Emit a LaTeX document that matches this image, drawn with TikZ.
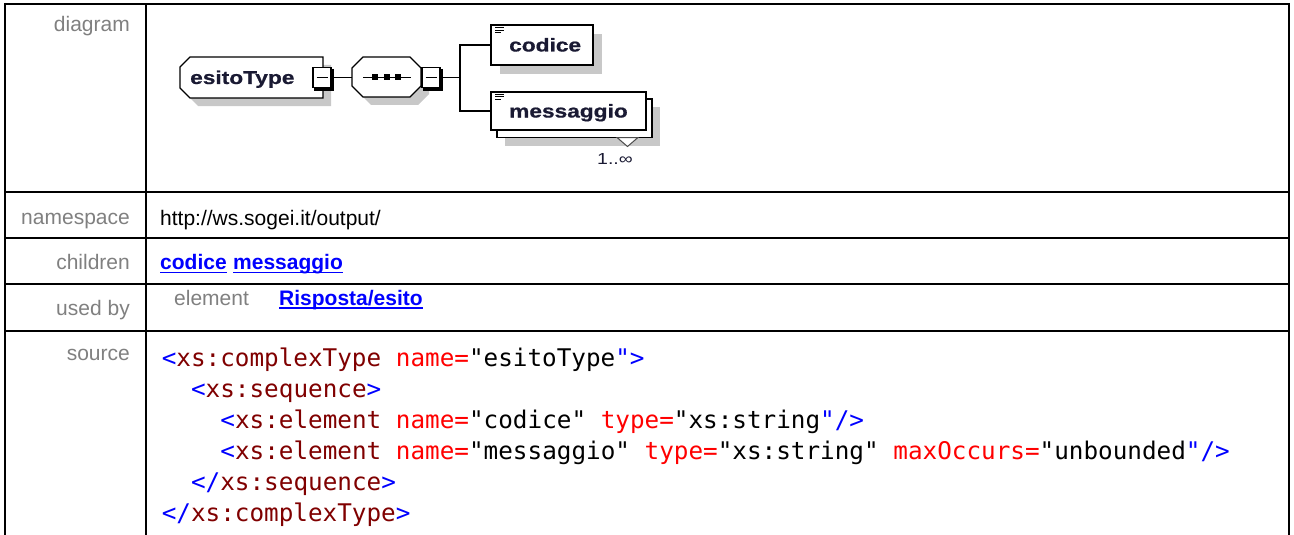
\documentclass[tikz,border=0pt]{standalone}
\usepackage{fontspec}
\setmainfont{Liberation Sans}
\newfontfamily\codefont{DejaVu Sans Mono}
\newfontfamily\elfont{Liberation Sans Bold}[FakeBold=0.6]
\usetikzlibrary{calc}
\definecolor{lbl}{HTML}{808080}
\definecolor{lnk}{HTML}{0000FF}
\definecolor{shd}{HTML}{C8C8C8}
\definecolor{cblue}{HTML}{0000FF}
\definecolor{ctag}{HTML}{800000}
\definecolor{cattr}{HTML}{FF0000}
\definecolor{dtext}{HTML}{1A1A33}
\newcommand\codeB[1]{\textcolor{cblue}{#1}}
\newcommand\codeT[1]{\textcolor{ctag}{#1}}
\newcommand\codeA[1]{\textcolor{cattr}{#1}}
\newcommand\wideT[1]{\scalebox{1.22}[1]{#1}}
\begin{document}
\begin{tikzpicture}[x=1pt,y=-1pt,
  grid/.style={line width=2pt, draw=black},
  lbltext/.style={anchor=base east, inner sep=0, text=lbl, font=\fontsize{21}{25}\selectfont},
  valtext/.style={anchor=base west, inner sep=0, font=\fontsize{21}{25}\selectfont},
  linktext/.style={anchor=base west, inner sep=0, text=lnk, font=\bfseries\fontsize{21}{25}\selectfont},
  ul/.style={draw=lnk, line width=1.6pt},
  codeline/.style={anchor=base west, inner sep=0, font=\codefont\fontsize{24.3}{29}\selectfont},
  eltext/.style={anchor=base west, inner sep=0, text=dtext, font=\elfont\fontsize{18.6}{22}\selectfont},
  boxline/.style={draw=black, line width=1.2pt, fill=white},
  elbox/.style={boxline, inner sep=0},
  anchorbox/.style={draw=none, inner sep=0},
  minusbox/.style={draw=black, fill=white, line width=1.1pt, minimum width=18pt, minimum height=20pt, inner sep=0},
  wire/.style={line width=1.1pt, draw=black},
  icon/.style={line width=1pt, draw=black}
]
\useasboundingbox (0,0) rectangle (1294,535);
\fill[white] (0,0) rectangle (1294,535);

% ---------- table grid ----------
\draw[grid] (5,4) -- (1289,4);
\draw[grid] (5,3) -- (5,535);
\draw[grid] (1289,3) -- (1289,535);
\draw[grid] (146,4) -- (146,535);
\draw[grid] (5,192) -- (1289,192);
\draw[grid] (5,238) -- (1289,238);
\draw[grid] (5,284) -- (1289,284);
\draw[grid] (5,331) -- (1289,331);

% ---------- left labels ----------
\node[lbltext] (ldiag) at (130,32) {diagram};
\node[lbltext] (lns) at (130,224.5) {namespace};
\node[lbltext] (lch) at (130,269.5) {children};
\node[lbltext] (lub) at (130,315) {used by};
\node[lbltext] (lsrc) at (130,360) {source};

% ---------- diagram ----------
% esitoType (complex type, chamfered left corners)
\fill[shd, shift={(8,8)}] (190,57) -- (323,57) -- (323,98) -- (190,98) -- (180,88) -- (180,67) -- cycle;
\path[boxline] (190,57) -- (323,57) -- (323,98) -- (190,98) -- (180,88) -- (180,67) -- cycle;
\node[anchorbox, minimum width=143pt, minimum height=41pt] (esito) at (251.5,77.5) {};
\node[eltext] (esitoT) at (190,84) {\wideT{esitoType}};
\node[minusbox] (m1) at (322,77.5) {};
\draw[line width=3pt] ($(m1.north east)+(1.4,2)$) -- ($(m1.south east)+(1.4,1.4)$) -- ($(m1.south west)+(2,1.4)$);
\draw[wire] ($(m1.center)+(-5.5,0)$) -- ($(m1.center)+(5.5,0)$);

% sequence compositor (octagon)
\fill[shd, shift={(8,8)}] (363,57) -- (410,57) -- (421,68) -- (421,86) -- (410,97) -- (363,97) -- (352,86) -- (352,68) -- cycle;
\path[boxline] (363,57) -- (410,57) -- (421,68) -- (421,86) -- (410,97) -- (363,97) -- (352,86) -- (352,68) -- cycle;
\node[anchorbox, minimum width=69pt, minimum height=40pt] (seq) at (386.5,77.5) {};
\draw[wire] (363,77.5) -- (411,77.5);
\fill (372,74.5) rectangle (378,80.5);
\fill (383.5,74.5) rectangle (389.5,80.5);
\fill (395,74.5) rectangle (401,80.5);
\node[minusbox] (m2) at (431,77.5) {};
\draw[line width=3pt] ($(m2.north east)+(1.4,2)$) -- ($(m2.south east)+(1.4,1.4)$) -- ($(m2.south west)+(2,1.4)$);
\draw[wire] ($(m2.center)+(-5.5,0)$) -- ($(m2.center)+(5.5,0)$);

\draw[wire] (m1.east) -- (seq.west);
\coordinate (fork) at (460,77.5);
\draw[wire] ([xshift=1.4pt]m2.east) -- (fork);

% codice element
\fill[shd] (500,34) rectangle (602,74);
\node[elbox, minimum width=102pt, minimum height=40pt] (codice) at (542,45) {};
\draw[icon] (495,28) -- (504,28);
\draw[icon] (495,30.5) -- (504,30.5);
\draw[icon] (495,33) -- (501,33);
\node[eltext] (codiceT) at (509,51.5) {\wideT{codice}};

% messaggio element (1..unbounded)
\fill[shd] (505,107) rectangle (660,146);
\path[boxline] (497,99) rectangle (652,137.5);
\node[elbox, minimum width=155pt, minimum height=38pt] (msg) at (568.5,111) {};
\draw[icon] (495,94.5) -- (504,94.5);
\draw[icon] (495,97) -- (504,97);
\draw[icon] (495,99.5) -- (501,99.5);
\node[eltext] (msgT) at (509,117.5) {\wideT{messaggio}};
\filldraw[fill=white, draw=black!70, line width=1pt] (617,137.5) -- (638,137.5) -- (627.5,146.5) -- cycle;
\node[anchor=base west, inner sep=0, text=dtext, font=\fontsize{16}{19}\selectfont] (occ) at (597,164.5) {\wideT{1..∞}};

\draw[wire] (codice.west) -| (fork);
\draw[wire] (msg.west) -| (fork);

% ---------- namespace / children / used by ----------
\node[valtext] (ns) at (160,225.5) {http://ws.sogei.it/output/};
\node[linktext] (lk1) at (160,269.5) {codice};
\node[linktext] (lk2) at (233,269.5) {messaggio};
\draw[ul] ([yshift=-3pt]lk1.base west) -- ([yshift=-3pt]lk1.base east);
\draw[ul] ([yshift=-3pt]lk2.base west) -- ([yshift=-3pt]lk2.base east);
\node[valtext, text=lbl] (ubel) at (174,305) {element};
\node[linktext] (lk3) at (279,305) {Risposta/esito};
\draw[ul] ([yshift=-3pt]lk3.base west) -- ([yshift=-3pt]lk3.base east);

% ---------- source ----------
\node[codeline] (code1) at (161.6,366.5) {\codeB{<}\codeT{xs:complexType} \codeA{name=}"esitoType\codeB{">}};
\node[codeline] (code2) at (190.9,397.5) {\codeB{<}\codeT{xs:sequence}\codeB{>}};
\node[codeline] (code3) at (220.2,428.5) {\codeB{<}\codeT{xs:element} \codeA{name=}"codice" \codeA{type=}"xs:string\codeB{"/>}};
\node[codeline] (code4) at (220.2,459.5) {\codeB{<}\codeT{xs:element} \codeA{name=}"messaggio" \codeA{type=}"xs:string" \codeA{maxOccurs=}"unbounded\codeB{"/>}};
\node[codeline] (code5) at (190.9,490.5) {\codeB{</}\codeT{xs:sequence}\codeB{>}};
\node[codeline] (code6) at (161.6,521.5) {\codeB{</}\codeT{xs:complexType}\codeB{>}};
\end{tikzpicture}
\end{document}
